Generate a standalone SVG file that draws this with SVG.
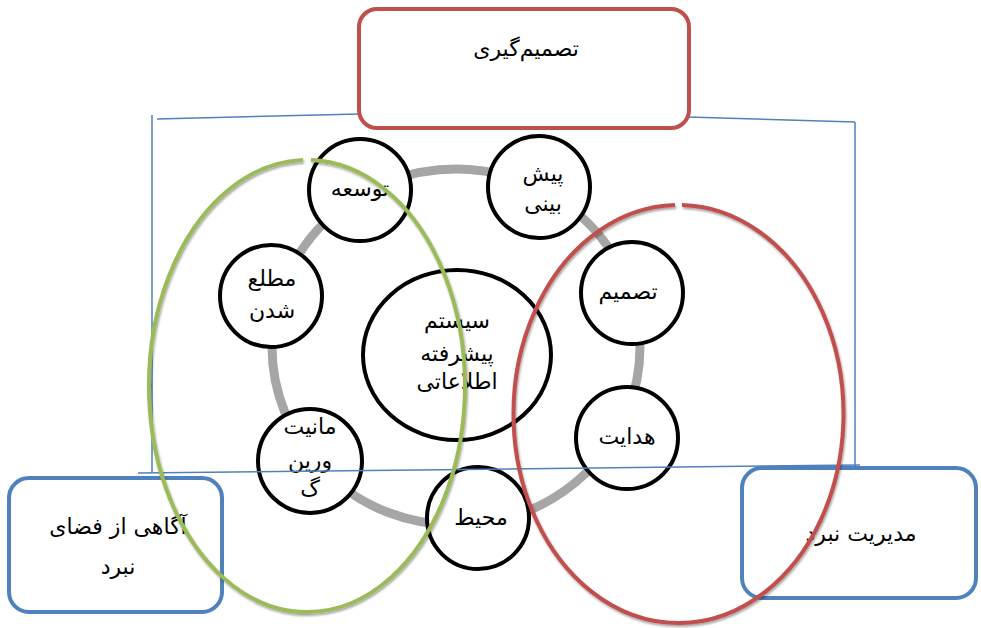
<svg xmlns="http://www.w3.org/2000/svg" width="981" height="628" viewBox="0 0 981 628">
<style>
.frame{fill:none;stroke:#4F81BD;stroke-width:1.5}
.ring{fill:none;stroke:#A6A6A6;stroke-width:9}
.node{fill:#fff;stroke:#000;stroke-width:4}
.boxr{fill:#fff;stroke:#C0504D;stroke-width:4}
.boxb{fill:#fff;stroke:#4F81BD;stroke-width:4}
.t{font-family:"DejaVu Sans","Noto Sans",sans-serif;font-size:22px;fill:#000;text-anchor:middle}
.gr{fill:none;stroke:#9BBB59;stroke-width:4}
.rd{fill:none;stroke:#C0504D;stroke-width:4}
</style>
<defs>
<filter id="sh" x="-10%" y="-10%" width="120%" height="120%">
<feDropShadow dx="1" dy="2" stdDeviation="1.2" flood-color="#000" flood-opacity="0.35"/>
</filter>
</defs>
<rect width="981" height="628" fill="#fff"/>
<g id="frame">
<line class="frame" x1="152" y1="115" x2="152" y2="473"/>
<line class="frame" x1="157" y1="119" x2="360" y2="114"/>
<line class="frame" x1="688" y1="117" x2="855" y2="122"/>
<line class="frame" x1="855" y1="122" x2="855" y2="472"/>
</g>
<g id="ring">
<ellipse class="ring" cx="456" cy="347" rx="184" ry="178"/>
</g>
<g id="n-center">
<ellipse class="node" cx="457" cy="355" rx="94" ry="85"/>
<text class="t" x="457" y="328">سیستم</text>
<text class="t" x="457" y="361">پیشرفته</text>
<text class="t" x="457" y="389">اطلاعاتی</text>
</g>
<g id="n-tosee">
<circle class="node" cx="360" cy="190" r="51"/>
<text class="t" x="360" y="196">توسعه</text>
</g>
<g id="n-motale">
<circle class="node" cx="271" cy="296" r="51"/>
<text class="t" x="272" y="286">مطلع</text>
<text class="t" x="272" y="318">شدن</text>
</g>
<g id="n-pishbini">
<circle class="node" cx="539" cy="187" r="51"/>
<text class="t" x="543" y="181">پیش</text>
<text class="t" x="543" y="211">بینی</text>
</g>
<g id="n-tasmim">
<circle class="node" cx="632" cy="293" r="51"/>
<text class="t" x="628" y="299">تصمیم</text>
</g>
<g id="n-hedayat">
<circle class="node" cx="627" cy="438" r="51"/>
<text class="t" x="627" y="444">هدایت</text>
</g>
<g id="n-monitoring">
<circle class="node" cx="310" cy="461" r="52"/>
<text class="t" x="310" y="434">مانیت</text>
<text class="t" x="310" y="468">ورین</text>
<text class="t" x="310" y="496">گ</text>
</g>
<g id="n-mohit">
<circle class="node" cx="478" cy="518" r="51"/>
<text class="t" x="481" y="525">محیط</text>
</g>
<g id="b-top">
<rect class="boxr" x="359" y="9" width="330" height="119" rx="18"/>
<text class="t" x="526" y="56">تصمیم‌گیری</text>
</g>
<g id="b-left">
<rect class="boxb" x="9" y="478" width="213" height="134" rx="20"/>
<text class="t" x="118" y="534">آگاهی از فضای</text>
<text class="t" x="118" y="574">نبرد</text>
</g>
<g id="b-right">
<rect class="boxb" x="742" y="468" width="234" height="130" rx="20"/>
<text class="t" x="861" y="541">مدیریت نبرد</text>
</g>
<g id="connectors">
<line class="frame" x1="138" y1="473" x2="860" y2="465"/>
<path class="gr" filter="url(#sh)" d="M 311 160.1 A 158 226 0 1 1 303 160.1"/>
<path class="rd" filter="url(#sh)" d="M 682 205.1 A 165 209 0 1 1 675 205.1"/>
</g>
</svg>
